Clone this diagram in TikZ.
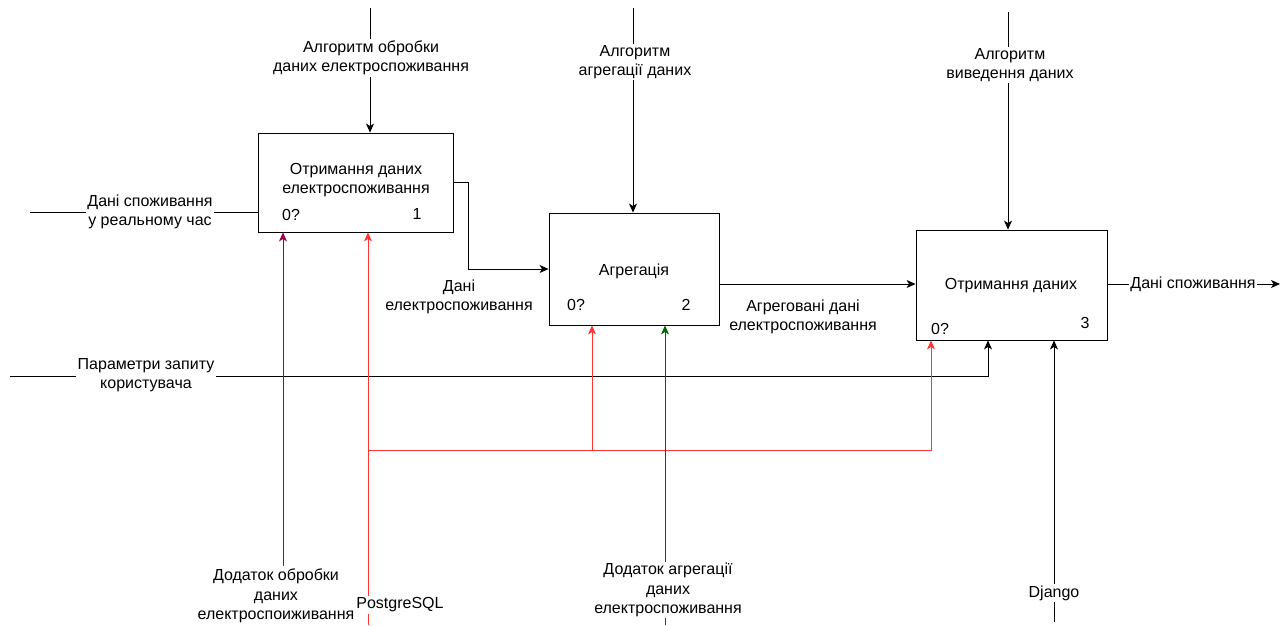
\documentclass[tikz,border=0pt]{standalone}
\usepackage{fontspec}
\setmainfont{Liberation Sans}
\usetikzlibrary{arrows.meta}
\definecolor{myred}{RGB}{255,51,51}
\definecolor{mygreen}{RGB}{0,102,0}
\definecolor{mypurple}{RGB}{153,0,77}
\begin{document}
\begin{tikzpicture}[x=1pt,y=-1pt,line width=0.8pt,
  >={Stealth[length=9pt,width=8pt,inset=2.5pt]},
  procbox/.style={draw,line width=0.9pt,inner sep=0pt},
  txt/.style={inner sep=0pt,align=center,font=\fontsize{16}{19.5}\selectfont},
  lbl/.style={fill=white,inner sep=1.5pt,align=center,font=\fontsize{16}{19.5}\selectfont}]
\useasboundingbox (0,0) rectangle (1285,625);

% boxes
\node[procbox,minimum width=195pt,minimum height=99pt] (b1) at (355.5,182.5) {};
\node[procbox,minimum width=170pt,minimum height=112pt] (b2) at (634,269) {};
\node[procbox,minimum width=191pt,minimum height=110pt] (b3) at (1011.5,285) {};

\node[txt] (t1) at (356,180) {Отримання даних\\електроспоживання};
\node[txt] (t1a) at (291,215) {0?};
\node[txt] (t1b) at (417,214) {1};
\node[txt] (t2) at (634,271) {Агрегація};
\node[txt] (t2a) at (576,305) {0?};
\node[txt] (t2b) at (686,305) {2};
\node[txt] (t3) at (1011,286) {Отримання даних};
\node[txt] (t3a) at (940,329) {0?};
\node[txt] (t3b) at (1085,323) {3};

% free ends and junctions
\coordinate (top1) at (370,8);
\coordinate (top2) at (633,8);
\coordinate (top3) at (1008,12);
\coordinate (in1) at (30,212);
\coordinate (r2) at (0,284);
\coordinate (out3) at (1280,284);
\coordinate (p0) at (10,376);
\coordinate (c3) at (988,0);
\coordinate (m1) at (283,566);
\coordinate (m2) at (368,625);
\coordinate (jr) at (368,450);
\coordinate (jb2) at (592,450);
\coordinate (jb3) at (931,450);
\coordinate (m3) at (665,625);
\coordinate (m4) at (1054,622);

% controls
\draw[->] (top1) -- (top1 |- b1.north);
\draw[->] (top2) -- (top2 |- b2.north);
\draw[->] (top3) -- (top3 |- b3.north);
% input
\draw (in1) -- (in1 -| b1.west);
% flows
\draw[->] (b1.east) -- ++(15,0) |- (b2.west);
\draw[->] (b2.east |- r2) -- (b3.west |- r2);
\draw[->] (b3.east |- r2) -- (out3);
\draw[->] (p0) -| (c3 |- b3.south);
% mechanisms
\draw[->,mypurple] (m1) -- (m1 |- b1.south);
\draw[->,myred] (m2) -- (m2 |- b1.south);
\draw[->,myred] (jr) -| (jb3 |- b3.south);
\draw[->,myred] (jb2) -- (jb2 |- b2.south);
\draw[->,mygreen] (m3) -- (m3 |- b2.south);
\draw[->] (m4) -- (m4 |- b3.south);

% labels
\node[lbl] (L1) at (371,58) {Алгоритм обробки\\даних електроспоживання};
\node[lbl] (L2) at (635,62) {Алгоритм\\агрегації даних};
\node[lbl] (L3) at (1010,65) {Алгоритм\\виведення даних};
\node[lbl] (Lin) at (150,212) {Дані споживання\\у реальному час};
\node[lbl] (Lp) at (146,375) {Параметри запиту\\користувача};
\node[lbl,fill=none] (Ld) at (459,297) {Дані\\електроспоживання};
\node[lbl,fill=none] (La) at (803,317) {Агреговані дані\\електроспоживання};
\node[lbl] (Lout) at (1193,284) {Дані споживання};
\node[lbl] (Lm1) at (276,596) {Додаток обробки\\даних\\електроспоиживання};
\node[lbl] (Lm2) at (400,605) {PostgreSQL};
\node[lbl] (Lm3) at (668,590) {Додаток агрегації\\даних\\електроспоживання};
\node[lbl] (Lm4) at (1054,593) {Django};
\end{tikzpicture}
\end{document}
